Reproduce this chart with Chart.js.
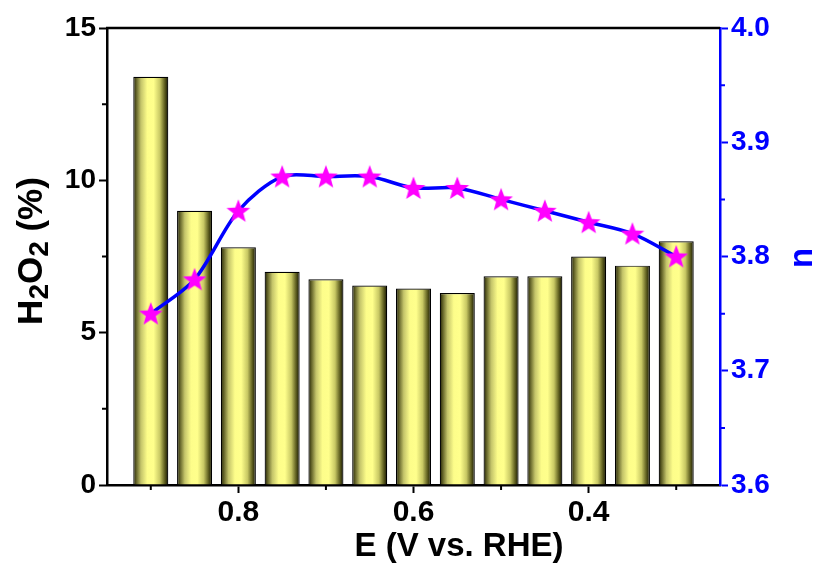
<!DOCTYPE html>
<html>
<head>
<meta charset="utf-8">
<script src="https://cdn.jsdelivr.net/npm/chart.js@4.4.1/dist/chart.umd.min.js"></script>
<style>
  html, body { margin: 0; padding: 0; background: #fff; }
  #wrap { width: 822px; height: 566px; position: relative; }
</style>
</head>
<body>
<div id="wrap"><canvas id="c" width="822" height="566"></canvas></div>
<script>
// ---- data ----
const potentials = [0.9, 0.85, 0.8, 0.75, 0.7, 0.65, 0.6, 0.55, 0.5, 0.45, 0.4, 0.35, 0.3];
const h2o2Percent = [13.4, 9.0, 7.8, 7.0, 6.75, 6.55, 6.45, 6.3, 6.85, 6.85, 7.5, 7.2, 8.0];
const electronNumber = [3.75, 3.78, 3.84, 3.87, 3.87, 3.87, 3.86, 3.86, 3.85, 3.84, 3.83, 3.82, 3.80];
const xMajorTicks = [0.8, 0.6, 0.4];
const xMinorTicks = [0.9, 0.7, 0.5, 0.3];
const yMinorTicks = [2.5, 7.5, 12.5];
const y2MinorTicks = [3.65, 3.75, 3.85, 3.95];
const xTitle = 'E (V vs. RHE)';
const y2Title = 'n';

const FONT = '"Liberation Sans", Arial, Helvetica, sans-serif';
const BLUE = '#0000ff';

// star marker image
function makeStar(size, color) {
  const cv = document.createElement('canvas');
  cv.width = size; cv.height = size;
  const g = cv.getContext('2d');
  const cx = size / 2, cy = size / 2 + 1, R = size / 2 - 0.5, r = R * 0.42;
  g.beginPath();
  for (let i = 0; i < 10; i++) {
    const rad = i % 2 === 0 ? R : r;
    const a = -Math.PI / 2 + i * Math.PI / 5;
    const px = cx + rad * Math.cos(a), py = cy + rad * Math.sin(a);
    if (i === 0) g.moveTo(px, py); else g.lineTo(px, py);
  }
  g.closePath();
  g.fillStyle = color;
  g.fill();
  return cv;
}
const starImg = makeStar(26, '#ff00ff');

function barGradient(context) {
  if (context.type !== 'data') return '#e8e878';
  const chart = context.chart;
  const xs = chart.scales && chart.scales.x;
  const xv = context.parsed ? context.parsed.x : potentials[context.dataIndex];
  if (!xs) return '#e8e878';
  const c = xs.getPixelForValue(xv);
  const step = Math.abs(xs.getPixelForValue(potentials[0]) - xs.getPixelForValue(potentials[1]));
  if (!isFinite(c) || !isFinite(step) || step <= 0) return '#e8e878';
  const w = step * 0.8;
  const g = chart.ctx.createLinearGradient(c - w / 2, 0, c + w / 2, 0);
  g.addColorStop(0.0, '#1c1c00');
  g.addColorStop(0.08, '#5e5e26');
  g.addColorStop(0.22, '#c4c46a');
  g.addColorStop(0.40, '#fdfd8a');
  g.addColorStop(0.58, '#ffff8c');
  g.addColorStop(0.76, '#c8c864');
  g.addColorStop(0.90, '#5c5c1e');
  g.addColorStop(1.0, '#121200');
  return g;
}

const decor = {
  id: 'decor',
  afterDraw(chart) {
    const { ctx, chartArea: a, scales } = chart;
    ctx.save();
    // top frame
    ctx.strokeStyle = '#000';
    ctx.lineWidth = 2.5;
    ctx.beginPath();
    ctx.moveTo(a.left - 1, a.top);
    ctx.lineTo(a.right, a.top);
    ctx.stroke();
    // minor ticks
    ctx.lineWidth = 2;
    ctx.beginPath();
    xMinorTicks.forEach(v => {
      const px = scales.x.getPixelForValue(v);
      ctx.moveTo(px, a.bottom); ctx.lineTo(px, a.bottom + 5);
    });
    yMinorTicks.forEach(v => {
      const py = scales.y.getPixelForValue(v);
      ctx.moveTo(a.left, py); ctx.lineTo(a.left - 5, py);
    });
    ctx.stroke();
    ctx.strokeStyle = BLUE;
    ctx.beginPath();
    y2MinorTicks.forEach(v => {
      const py = scales.y2.getPixelForValue(v);
      ctx.moveTo(a.right, py); ctx.lineTo(a.right + 5, py);
    });
    ctx.stroke();

    // x title
    ctx.fillStyle = '#000';
    ctx.font = 'bold 33px ' + FONT;
    ctx.textAlign = 'center';
    ctx.textBaseline = 'alphabetic';
    ctx.fillText(xTitle, 459, 556);

    // y title with subscripts, rotated
    ctx.save();
    ctx.translate(42, 251);
    ctx.rotate(-Math.PI / 2);
    const parts = [
      { t: 'H', sub: false }, { t: '2', sub: true },
      { t: 'O', sub: false }, { t: '2', sub: true },
      { t: ' (%)', sub: false }
    ];
    const big = 'bold 35px ' + FONT, small = 'bold 28px ' + FONT;
    let total = 0;
    parts.forEach(p => { ctx.font = p.sub ? small : big; p.w = ctx.measureText(p.t).width; total += p.w; });
    let x0 = -total / 2;
    ctx.textAlign = 'left';
    parts.forEach(p => {
      ctx.font = p.sub ? small : big;
      ctx.fillText(p.t, x0, p.sub ? 6 : 0);
      x0 += p.w;
    });
    ctx.restore();

    // right title
    ctx.save();
    ctx.translate(812, 258);
    ctx.rotate(-Math.PI / 2);
    ctx.fillStyle = BLUE;
    ctx.font = 'bold 33px ' + FONT;
    ctx.textAlign = 'center';
    ctx.fillText(y2Title, 0, 0);
    ctx.restore();

    ctx.restore();
  }
};

const barData = potentials.map((e, i) => ({ x: e, y: h2o2Percent[i] }));
const lineData = potentials.map((e, i) => ({ x: e, y: electronNumber[i] }));

const chart = new Chart(document.getElementById('c'), {
  data: {
    datasets: [
      {
        type: 'line',
        label: 'n',
        data: lineData,
        yAxisID: 'y2',
        xAxisID: 'x',
        borderColor: BLUE,
        borderWidth: 3.5,
        tension: 0.3,
        pointStyle: starImg,
        pointRadius: 13,
        fill: false,
        order: 0
      },
      {
        type: 'bar',
        label: 'H2O2 (%)',
        data: barData,
        yAxisID: 'y',
        xAxisID: 'x',
        backgroundColor: barGradient,
        borderColor: '#000',
        borderWidth: 1.2,
        borderSkipped: 'bottom',
        barPercentage: 0.8,
        categoryPercentage: 1.0,
        order: 1
      }
    ]
  },
  options: {
    responsive: false,
    animation: false,
    devicePixelRatio: 1,
    layout: { padding: { top: 28, left: 0, right: 0, bottom: 0 } },
    plugins: { legend: { display: false }, tooltip: { enabled: false }, title: { display: false } },
    scales: {
      x: {
        type: 'linear',
        position: 'bottom',
        min: 0.25,
        max: 0.95,
        reverse: true,
        offset: false,
        afterBuildTicks: s => { s.ticks = xMajorTicks.map(v => ({ value: v })); },
        afterFit: s => { s.height = 81; },
        ticks: {
          color: '#000',
          font: { family: FONT, size: 30, weight: 'bold' },
          padding: 2,
          maxRotation: 0,
          callback: v => Number(v).toFixed(1)
        },
        grid: { offset: false, drawOnChartArea: false, drawTicks: true, tickLength: 8, tickWidth: 2, tickColor: '#000' },
        border: { display: true, color: '#000', width: 2.5 }
      },
      y: {
        type: 'linear',
        position: 'left',
        min: 0,
        max: 15,
        ticks: {
          stepSize: 5,
          color: '#000',
          font: { family: FONT, size: 28, weight: 'bold' },
          padding: 3
        },
        afterFit: s => { s.width = 107; },
        grid: { drawOnChartArea: false, drawTicks: true, tickLength: 8, tickWidth: 2, tickColor: '#000' },
        border: { display: true, color: '#000', width: 2.5 }
      },
      y2: {
        type: 'linear',
        position: 'right',
        min: 3.6,
        max: 4.0,
        ticks: {
          stepSize: 0.1,
          color: BLUE,
          font: { family: FONT, size: 28, weight: 'bold' },
          padding: 3,
          callback: v => Number(v).toFixed(1)
        },
        afterFit: s => { s.width = 102; },
        grid: { drawOnChartArea: false, drawTicks: true, tickLength: 8, tickWidth: 2, tickColor: BLUE },
        border: { display: true, color: BLUE, width: 2.5 }
      }
    }
  },
  plugins: [decor]
});
chart.update();
</script>
</body>
</html>
